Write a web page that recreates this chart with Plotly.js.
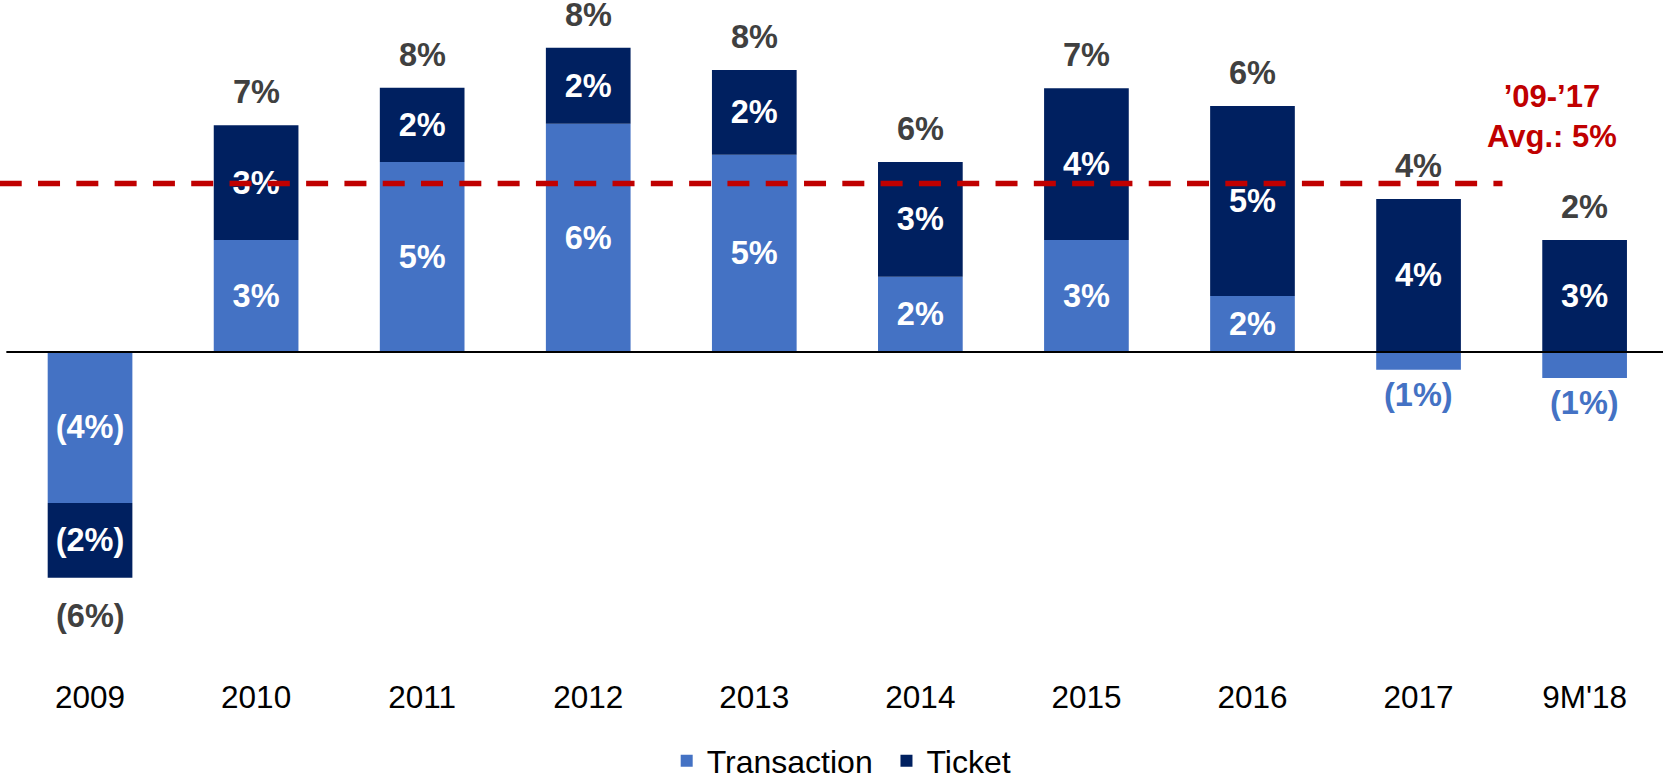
<!DOCTYPE html>
<html>
<head>
<meta charset="utf-8">
<script src="https://cdn.plot.ly/plotly-3.0.1.min.js"></script>
<style>
  html, body { margin: 0; padding: 0; background: #fff; }
  #chart { width: 1663px; height: 779px; }
</style>
</head>
<body>
<div id="chart"></div>
<script>
// ---- Data ----
const categories = ['2009', '2010', '2011', '2012', '2013', '2014', '2015', '2016', '2017', "9M'18"];
const transaction = [-4.48, 3.32, 5.64, 6.77, 5.85, 2.23, 3.32, 1.66, -0.53, -0.77];
const ticket = [-2.22, 3.41, 2.20, 2.26, 2.52, 3.41, 4.51, 5.64, 4.54, 3.32];
const transactionLabels = ['(4%)', '3%', '5%', '6%', '5%', '2%', '3%', '2%', '(1%)', '(1%)'];
const ticketLabels = ['(2%)', '3%', '2%', '2%', '2%', '3%', '4%', '5%', '4%', '3%'];
const totalLabels = ['(6%)', '7%', '8%', '8%', '8%', '6%', '7%', '6%', '4%', '2%'];
const avgValue = 5;
const avgLabel = ['’09-’17', 'Avg.: 5%'];

// ---- Styles ----
const FONT = 'Liberation Sans, Arial, Helvetica, sans-serif';
const C_TRANS = '#4472C4';
const C_TICKET = '#002060';
const C_TOTAL = '#404040';
const C_AVG = '#C00000';
const LABEL_SIZE = 32.5;

const inside = (vals, labels) => vals.map((v, i) => Math.abs(v) >= 1 ? labels[i] : '');

const traceTrans = {
  type: 'bar', name: 'Transaction', x: categories, y: transaction,
  marker: { color: C_TRANS },
  text: inside(transaction, transactionLabels),
  textposition: 'inside', insidetextanchor: 'middle', constraintext: 'none', textangle: 0,
  insidetextfont: { family: FONT, size: LABEL_SIZE, color: '#ffffff', weight: 'bold' },
  hoverinfo: 'skip', legend: 'legend'
};
const traceTicket = {
  type: 'bar', name: 'Ticket', x: categories, y: ticket,
  marker: { color: C_TICKET },
  text: inside(ticket, ticketLabels),
  textposition: 'inside', insidetextanchor: 'middle', constraintext: 'none', textangle: 0,
  insidetextfont: { family: FONT, size: LABEL_SIZE, color: '#ffffff', weight: 'bold' },
  hoverinfo: 'skip', legend: 'legend2'
};

// annotations use the category index (serial number) on the category axis
const annotations = [];
categories.forEach((c, i) => {
  const pos = Math.max(transaction[i], 0) + Math.max(ticket[i], 0);
  const neg = Math.min(transaction[i], 0) + Math.min(ticket[i], 0);
  const total = transaction[i] + ticket[i];
  if (total >= 0) {
    annotations.push({ x: i, y: pos, xref: 'x', yref: 'y', text: totalLabels[i], showarrow: false,
      yanchor: 'bottom', yshift: 13, font: { family: FONT, size: LABEL_SIZE, color: C_TOTAL, weight: 'bold' } });
  } else {
    annotations.push({ x: i, y: neg, xref: 'x', yref: 'y', text: totalLabels[i], showarrow: false,
      yanchor: 'top', yshift: -18, font: { family: FONT, size: LABEL_SIZE, color: C_TOTAL, weight: 'bold' } });
  }
  if (Math.abs(transaction[i]) < 1 && transaction[i] < 0) {
    annotations.push({ x: i, y: transaction[i], xref: 'x', yref: 'y', text: transactionLabels[i], showarrow: false,
      yanchor: 'top', yshift: -5, font: { family: FONT, size: LABEL_SIZE, color: C_TRANS, weight: 'bold' } });
  }
});
annotations.push({
  x: 0.933, xref: 'paper', y: 7.0, yref: 'y', text: avgLabel.join('<br>'), showarrow: false,
  align: 'center', xanchor: 'center', yanchor: 'middle',
  font: { family: FONT, size: 31, color: C_AVG, weight: 'bold' }
});

const legendBase = {
  orientation: 'h', xanchor: 'left', y: -0.096, yanchor: 'top',
  font: { family: FONT, size: 32, color: '#000000' }, bgcolor: 'rgba(0,0,0,0)'
};

const layout = {
  width: 1663, height: 779,
  margin: { l: 8, r: 0, t: 10, b: 109, autoexpand: false },
  paper_bgcolor: '#ffffff', plot_bgcolor: '#ffffff',
  barmode: 'relative', bargap: 0.49,
  xaxis: {
    type: 'category', range: [-0.494, 9.472], showgrid: false, zeroline: false, showline: false, ticks: '',
    ticklabelstandoff: 5,
    tickfont: { family: FONT, size: 31.5, color: '#000000' }, fixedrange: true
  },
  yaxis: {
    range: [-9.44, 10.15], visible: false, showgrid: false, zeroline: false, fixedrange: true
  },
  showlegend: true,
  legend: Object.assign({}, legendBase, { x: 0.398 }),
  legend2: Object.assign({}, legendBase, { x: 0.5308 }),
  shapes: [
    { type: 'line', xref: 'paper', yref: 'y', x0: -0.001, x1: 1, y0: 0, y1: 0,
      line: { color: '#000000', width: 2 }, layer: 'above' },
    { type: 'line', xref: 'paper', yref: 'y', x0: -0.005, x1: 0.903, y0: avgValue, y1: avgValue,
      line: { color: C_AVG, width: 5.5, dash: '22px,16.3px' }, layer: 'above' }
  ],
  annotations: annotations
};

Plotly.newPlot('chart', [traceTrans, traceTicket], layout, { displayModeBar: false, staticPlot: true });
</script>
</body>
</html>
